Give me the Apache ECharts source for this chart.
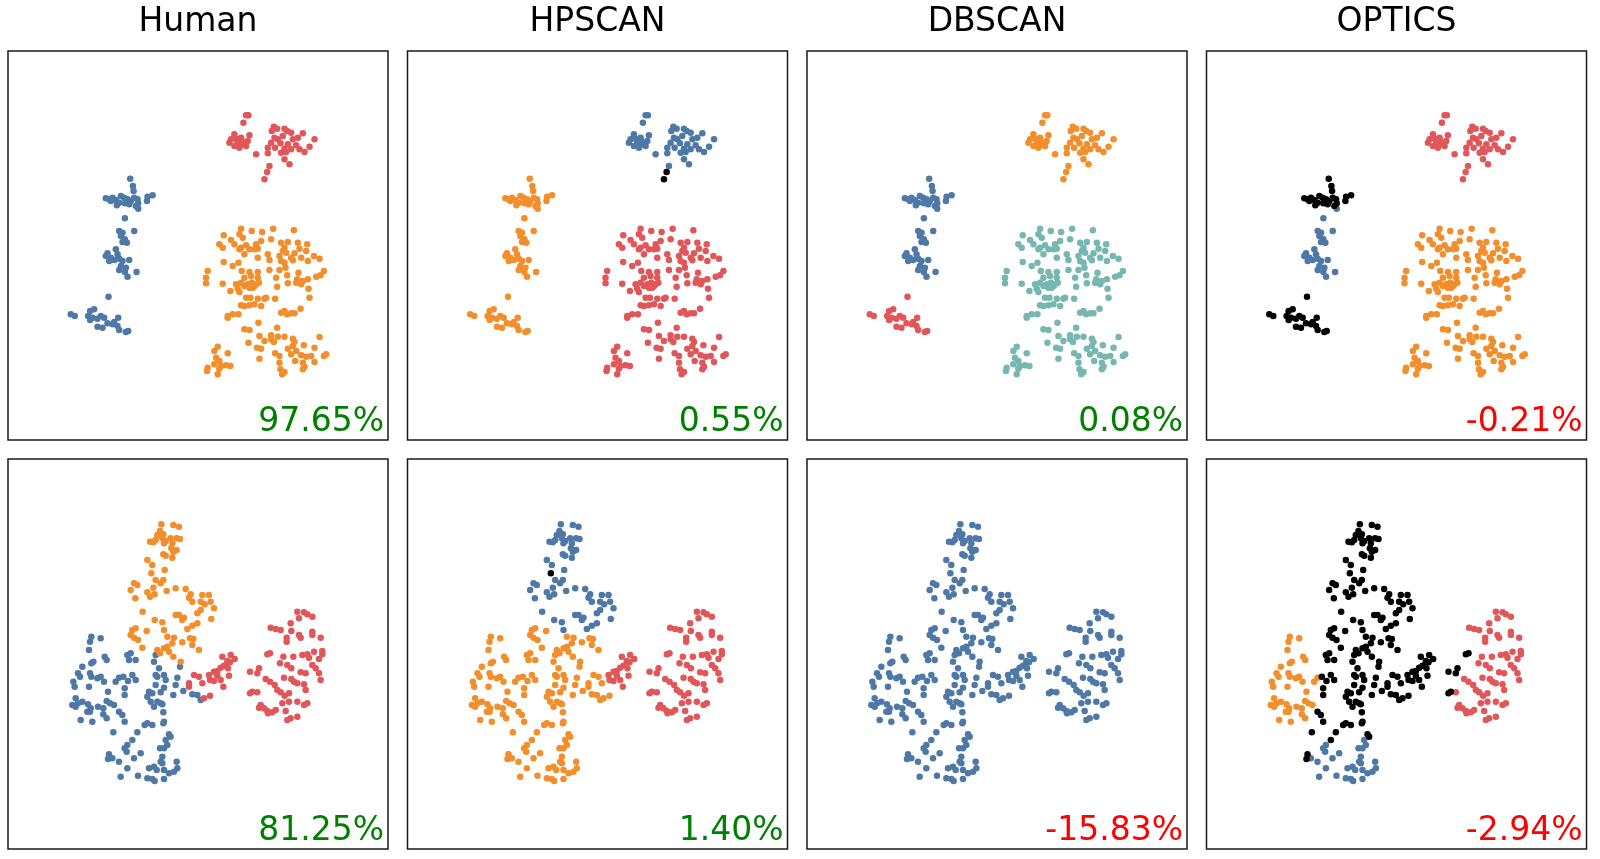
<!DOCTYPE html>
<html>
<head>
<meta charset="utf-8">
<script src="https://cdn.jsdelivr.net/npm/echarts@6/dist/echarts.min.js"></script>
<style>
	html, body {margin: 0; padding: 0; background: #fff;}
	#chart {width: 1600px; height: 859px;}
</style>
</head>
<body>
<div id="chart"></div>
<script>
var methods = ['Human', 'HPSCAN', 'DBSCAN', 'OPTICS'];
var scoresTop = ['97.65%', '0.55%', '0.08%', '-0.21%'];
var scoresBottom = ['81.25%', '1.40%', '-15.83%', '-2.94%'];

// ---- top dataset (panel pixel units x3) ----
var topRight = [[735,198],[742,198],[727,220],[700,255],[745,258],[690,270],[705,268],[720,265],[710,280],[685,280],[725,285],[715,295],[735,290],[740,275],[700,290],[722,275],
	[818,232],[828,238],[812,245],[850,238],[858,245],[870,250],[905,252],[845,260],[820,265],[830,270],[875,270],[890,265],[940,270],[810,280],[838,282],[860,285],[885,288],[800,295],[822,295],[850,298],[870,300],[895,300],[910,308],[925,292],[840,310],[855,308],[765,315],[800,312],[850,330],[865,345],[805,350]];
var topRightTail = [[798,368],[790,390]];
var chainTop = [[388,388],[396,410],[398,425],[315,447],[325,450],[335,445],[345,452],[360,440],[370,445],[380,450],[355,460],[372,462],[390,455],[400,445],[410,450],[412,462],[405,470],[385,465],[440,442],[455,438],[438,455],[330,455],[348,468]];
var chainTopTail = [[412,478]];
var chainMid = [[372,507],[355,545],[365,550],[400,545],[360,560],[372,570],[378,580],[365,578],[320,612],[345,600],[315,620],[330,625],[350,615],[340,632],[355,628],[365,635],[385,632],[325,635],[360,650],[375,655],[372,668],[380,682],[407,668],[355,662]];
var chainLow = [[323,742],[210,795],[222,800],[280,780],[268,785],[262,800],[275,805],[290,808],[300,800],[310,805],[268,812],[290,832],[305,835],[320,822],[335,825],[352,805],[350,830],[355,842],[375,848],[382,845],[340,818]];
var blob = [[720,538],[752,545],[783,548],[816,538],[878,543],[668,558],[715,555],[725,565],
	[690,572],[810,570],[780,575],[700,585],[735,588],[765,585],[720,595],[745,600],[770,598],[840,580],[860,578],[890,580],[918,585],[655,585],[665,595],[715,600],[850,595],[895,598],[845,605],[915,605],[760,600],
	[730,615],[800,615],[835,620],[855,610],[880,612],[870,625],[900,625],[938,620],[955,628],[770,625],[805,632],[840,635],[850,640],[875,633],[920,635],[668,638],[712,640],[695,650],
	[620,665],[722,665],[745,668],[770,668],[805,662],[835,662],[853,655],[892,670],[968,665],[958,678],[750,680],[730,685],[770,685],[825,685],[858,678],[888,690],[905,695],[920,690],[615,685],[945,682],
	[615,702],[665,703],[705,705],[720,700],[740,705],[752,700],[760,710],[745,715],[730,710],[765,705],[773,700],[860,702],[885,700],[900,705],[828,712],[710,718],[688,725],[715,728],[922,718],[755,715],
	[735,745],[748,745],[770,748],[795,745],[790,748],[822,748],[925,745],[760,765],[745,768],[730,770],[720,768],[780,770],[850,785],[870,792],[880,792],[898,778],
	[680,800],[695,795],[712,795],[680,805],[858,795],[840,790],
	[772,820],[828,835],[730,840],[745,842],[775,860],[810,858],[830,862],[850,862],[875,868],[955,863],[742,880],
	[790,875],[810,870],[818,878],[880,878],[875,890],[908,888],[860,898],[885,905],[940,895],[768,895],[780,898],[650,892],[640,905],[680,912],[822,912],[870,915],[900,918],[915,922],[930,920],[968,920],[975,915],[775,928],[835,920],
	[645,925],[655,935],[640,945],[620,955],[660,950],[688,950],[675,948],[618,965],[655,958],[650,975],[835,940],[882,935],[905,940],[940,938],[910,952],[838,960],[850,968],[905,960],[843,975]];

// ---- bottom dataset ----
var arm = [[482,208],[518,210],[535,215],[478,228],[488,238],[470,240],[448,260],[458,262],[465,255],[485,250],[495,258],[510,250],[528,250],[538,252],[515,265],[490,265],[512,280],[528,285],[518,290],[488,298],[495,302],[515,308],[440,315],[455,330],[492,345],[465,375],[488,375],[480,385],[400,385],[390,405],[410,390],[458,398],[440,412],[462,418],[448,425],[498,408],[525,400],[555,402],[570,418],[565,428],[575,440],[605,420],[625,420],[600,440],[612,448],[630,440],[640,460],[600,465],[590,475],[525,480],[535,480],[550,488],[545,495],[632,492],[404,430],[426,470],[462,495],[485,502],[490,525],[560,522],[575,512],[590,505]];
var armNoise = [[452,355]];
var centerUpper = [[395,525],[405,520],[390,540],[400,548],[412,555],[438,528],[425,578],[500,545],[520,548],[515,565],[500,575],[490,580],[505,590],[478,595],[545,562],[578,552],[568,550],[575,570],[595,585],[470,585],[540,620],[518,605]];
var centerLower = [[390,595],[380,600],[385,615],[405,615],[395,660],[382,678],[368,665],[405,675],[372,700],[372,720],[460,620],[475,640],[465,660],[470,665],[490,660],[495,675],[465,690],[490,698],[480,712],[455,715],[445,710],[440,725],[450,740],[470,740],[480,745],[460,755],[485,748],[488,772],[538,635],[530,668],[525,690],[548,708],[518,720],[465,600]];
var leftLobe = [[272,545],[300,550],[268,560],[265,585],[312,605],[318,615],[278,620],[272,625],[245,635],[232,655],[238,665],[268,655],[272,665],[300,665],[290,670],[310,680],[218,680],[222,695],[265,695],[225,730],[232,745],[215,750],[225,755],[245,740],[262,748],[270,760],[268,770],[292,755],[308,760],[322,710],[318,738],[328,745],[340,750],[308,778],[318,790],[240,795],[275,800],[260,770],[355,668],[345,680]];
var leftTail = [[355,770],[365,780],[372,800],[338,832]];
var footUpper = [[440,805],[432,810],[455,810],[488,805],[490,800],[410,832],[505,838],[510,845],[395,855],[325,898],[322,912]];
var footLower = [[495,855],[500,870],[490,880],[478,880],[380,870],[372,880],[378,890],[420,895],[400,910],[485,905],[480,920],[335,910],[355,920],[485,925],[528,920],[530,940],[520,950],[505,955],[445,940],[460,935],[468,945],[490,945],[380,940],[360,965],[412,962],[440,970],[455,972],[462,978],[490,972]];
var bridgeRed = [[565,685],[565,695],[580,660],[595,665],[605,685],[628,722],[610,730]];
var bridgeBlue = [[575,718],[590,720],[600,735]];
var middle = [[665,605],[690,600],[702,612],[680,618],[670,632],[660,638],[682,640],[650,648],[640,650],[625,660],[650,662],[685,662],[628,675],[640,678],[660,675],[668,695],[675,632],[688,622]];
var right = [[890,470],[910,472],[920,478],[935,485],[895,490],[870,505],[810,518],[825,522],[840,525],[872,528],[895,540],[900,548],[935,530],[935,540],[858,548],[858,560],[960,548],
	[848,605],[878,605],[905,600],[920,598],[940,590],[965,588],[925,608],[965,598],[955,612],[838,625],[860,630],[872,640],[935,630],[945,640],[900,652],[915,655],[955,655],[960,675],
	[850,668],[872,672],[880,680],[890,685],[910,688],[795,672],[808,680],[822,690],[830,705],[840,712],[852,722],[865,715],[915,705],[770,712],[865,740],[845,745],[890,740],[920,745],[910,750],
	[780,750],[775,758],[790,760],[800,768],[815,772],[825,765],[855,768],[890,785],[860,795],[870,790],[802,775]];
var rightEdge = [[808,595],[800,598],[775,640],[748,650],[770,655],[755,710],[748,715]];

var C = {blue: '#4e79a7', orange: '#f28e2b', red: '#e15759', teal: '#76b7b2', black: '#000000'};
var colorOrder = ['blue', 'orange', 'red', 'teal', 'black'];

var topGroups = [topRight, topRightTail, chainTop, chainTopTail, chainMid, chainLow, blob];
var topLabels = [
	['red', 'red', 'blue', 'blue', 'blue', 'blue', 'orange'],
	['blue', 'black', 'orange', 'orange', 'orange', 'orange', 'red'],
	['orange', 'orange', 'blue', 'blue', 'blue', 'red', 'teal'],
	['red', 'red', 'black', 'blue', 'blue', 'black', 'orange']
];
var botGroups = [arm, armNoise, centerUpper, centerLower, leftLobe, leftTail, footUpper, footLower, bridgeRed, bridgeBlue, middle, right, rightEdge];
var botLabels = [
	['orange', 'orange', 'orange', 'blue', 'blue', 'blue', 'blue', 'blue', 'red', 'blue', 'red', 'red', 'red'],
	['blue', 'black', 'orange', 'orange', 'orange', 'orange', 'orange', 'orange', 'orange', 'orange', 'red', 'red', 'red'],
	['blue', 'blue', 'blue', 'blue', 'blue', 'blue', 'blue', 'blue', 'blue', 'blue', 'blue', 'blue', 'blue'],
	['black', 'black', 'black', 'black', 'orange', 'black', 'black', 'blue', 'black', 'black', 'black', 'red', 'black']
];

var chart = echarts.init(document.getElementById('chart'));
var grids = [], xAxes = [], yAxes = [], series = [], graphics = [];
var panelW = 380;

function addPanel(col, top, height, groups, labels, xr, yr, score){
	var idx = grids.length;
	var left = 8 + col * 399.5;
	grids.push({left: left, top: top, width: panelW, height: height, show: true, borderColor: '#1a1a1a', borderWidth: 1.5, backgroundColor: '#fff'});
	xAxes.push({gridIndex: idx, type: 'value', min: xr[0], max: xr[1], show: false});
	yAxes.push({gridIndex: idx, type: 'value', min: yr[0], max: yr[1], inverse: true, show: false});
	colorOrder.forEach(function(c){
		var pts = [];
		groups.forEach(function(g, i){
			if(labels[i] == c) pts = pts.concat(g);
		});
		if(!pts.length) return;
		series.push({
			type: 'scatter',
			xAxisIndex: idx,
			yAxisIndex: idx,
			symbolSize: 6.5,
			itemStyle: {color: C[c], opacity: 1},
			silent: true,
			animation: false,
			data: pts
		});
	});
	graphics.push({
		type: 'text',
		x: left + panelW - 4,
		y: top + height - 18,
		style: {
			text: score,
			fill: score.charAt(0) == '-' ? '#ff0000' : '#008000',
			font: '33px "DejaVu Sans"',
			align: 'right', textAlign: 'right',
			verticalAlign: 'middle', textVerticalAlign: 'middle'
		}
	});
}

for(var i = 0; i < 4; i++){
	addPanel(i, 51, 389, topGroups, topLabels[i], [22, 1160], [5, 1172], scoresTop[i]);
}
for(var j = 0; j < 4; j++){
	addPanel(j, 459, 390, botGroups, botLabels[j], [22, 1162], [12, 1182], scoresBottom[j]);
}
methods.forEach(function(m, k){
	graphics.push({
		type: 'text',
		x: 8 + k * 399.5 + panelW / 2,
		y: 22.5,
		style: {
			text: m,
			fill: '#000',
			font: '33px "DejaVu Sans"',
			align: 'center', textAlign: 'center',
			verticalAlign: 'middle', textVerticalAlign: 'middle'
		}
	});
});

var option = {
	backgroundColor: '#fff',
	animation: false,
	grid: grids,
	xAxis: xAxes,
	yAxis: yAxes,
	series: series,
	graphic: graphics
};
chart.setOption(option);
window.addEventListener('resize', function(){
	chart.resize();
});
</script>
</body>
</html>
